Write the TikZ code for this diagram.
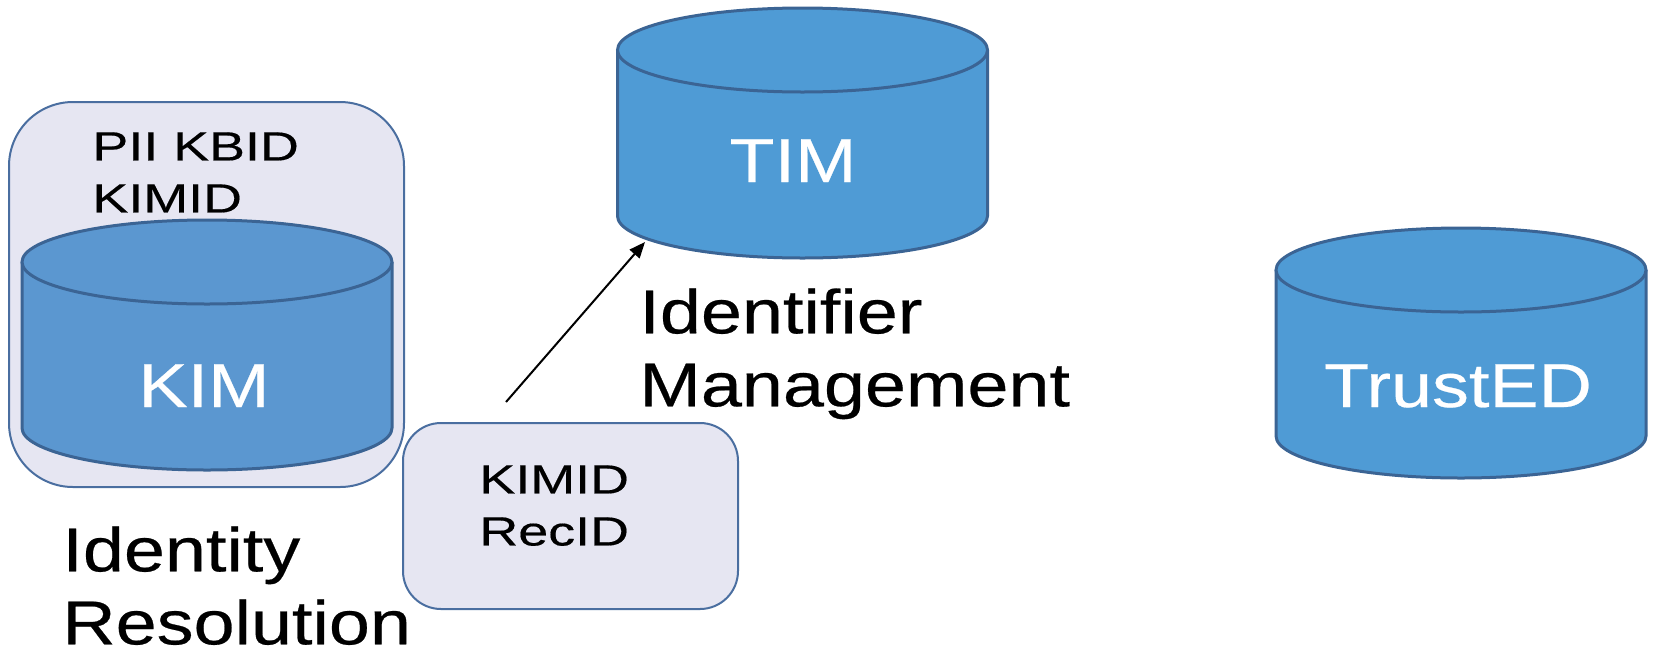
\documentclass[tikz,border=0pt]{standalone}
\usepackage{fontspec}
\setmainfont{Liberation Sans}
\newfontfamily\bigfont[FakeStretch=1.19,FakeBold=0.4]{Liberation Sans}
\newfontfamily\smallfont[FakeStretch=1.32,FakeBold=0.4]{Liberation Sans}
\usetikzlibrary{arrows.meta}
\definecolor{cylfill}{RGB}{79,155,213}
\definecolor{kimfill}{RGB}{91,151,208}
\definecolor{cylline}{RGB}{59,100,148}
\definecolor{boxfill}{RGB}{230,230,242}
\definecolor{boxline}{RGB}{74,110,160}
\tikzset{
  cylstroke/.style={draw=cylline, line width=1.5pt},
  rbox/.style={draw=boxline, fill=boxfill, line width=1pt, rectangle, inner sep=0pt},
  cyltext/.style={text=white, font=\bigfont\fontsize{31}{36}\selectfont, anchor=base, inner sep=0pt},
  smalltext/.style={font=\smallfont\fontsize{20.4}{26}\selectfont, align=left, anchor=north west, inner sep=0pt},
  bigtext/.style={font=\bigfont\fontsize{31}{36.5}\selectfont, align=left, anchor=north west, inner sep=0pt},
  conn/.style={line width=1pt, -{Triangle[length=8pt,width=6.5pt]}}
}
\newcommand\dbcyl[3]{% #1 = centre x, #2 = top ellipse centre y, #3 = colour prefix
  \fill[#3fill] (#1-185,#2) -- (#1-185,#2+166) arc[start angle=180,end angle=0,x radius=185,y radius=42] -- (#1+185,#2) -- cycle;
  \draw[cylstroke] (#1-185,#2) -- (#1-185,#2+166) arc[start angle=180,end angle=0,x radius=185,y radius=42] -- (#1+185,#2);
  \filldraw[cylstroke, fill=#3fill] (#1,#2) ellipse[x radius=185, y radius=42];
}
\begin{document}
\begin{tikzpicture}[x=0.5pt, y=-0.5pt]
\useasboundingbox (0,0) rectangle (1654,649);

% Identity resolution container
\node[rbox, rounded corners=32pt, minimum width=197.5pt, minimum height=192.5pt] (irbox) at (206.5,294.5) {};
\node[smalltext] (piitext) at (92,132) {PII KBID\\KIMID};

% cylinders
\dbcyl{207}{262}{kim}
\node[cyltext] (kim) at (204,407) {KIM};

\dbcyl{802.5}{50}{cyl}
\node[cyltext] (tim) at (793,182) {TIM};

\dbcyl{1461}{270}{cyl}
\node[cyltext] (trusted) at (1458,407) {TrustED};

% KIMID / RecID box
\node[rbox, rounded corners=19pt, minimum width=167.5pt, minimum height=93pt] (idbox) at (570.5,516) {};
\node[smalltext] (idtext) at (479,465) {KIMID\\RecID};

% labels
\node[bigtext] (irlabel) at (62,526) {Identity\\Resolution};
\node[bigtext] (imlabel) at (639,288) {Identifier\\Management};

% connector
\coordinate (arrowtail) at (506,402);
\coordinate (timhit) at (645,242);
\draw[conn] (arrowtail) -- (timhit);
\end{tikzpicture}
\end{document}
